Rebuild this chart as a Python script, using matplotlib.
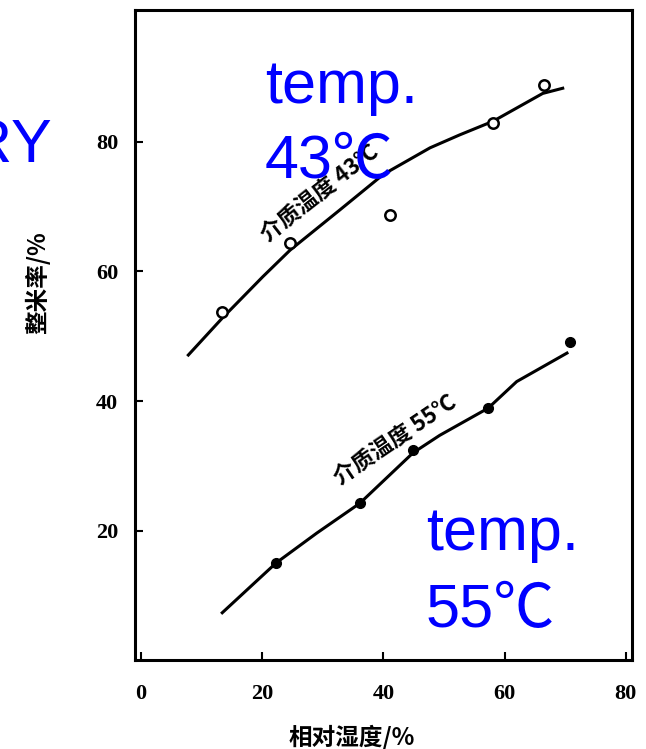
import numpy as np
import matplotlib.pyplot as plt

# ---- data ----
hum_43 = [13.4, 24.6, 41.1, 58.1, 66.5]          # open circles, 43 C
rate_43 = [53.7, 64.4, 68.7, 82.9, 88.8]
curve43_x = [7.8, 13.4, 20.1, 24.6, 32.8, 40.0, 47.7, 52.6, 58.1, 66.3, 69.6]
curve43_y = [47.1, 52.8, 59.2, 63.3, 69.5, 75.0, 79.1, 81.1, 83.2, 87.5, 88.3]

hum_55 = [22.3, 36.1, 44.9, 57.3, 70.8]          # filled dots, 55 C
rate_55 = [15.0, 24.2, 32.4, 38.9, 49.1]
curve55_x = [13.4, 22.3, 29.0, 36.1, 44.9, 49.3, 57.3, 62.0, 70.3]
curve55_y = [7.3, 15.0, 19.6, 24.2, 32.0, 34.7, 38.9, 43.0, 47.4]

xticks = [0, 20, 40, 60, 80]
yticks = [20, 40, 60, 80]

cjk = ['Noto Sans CJK SC', 'DejaVu Sans']
serif = ['Liberation Serif', 'DejaVu Serif']
blue_font = ['Liberation Sans', 'Noto Sans CJK SC', 'DejaVu Sans']

fig = plt.figure(figsize=(6.46, 7.49), dpi=100)
ax = fig.add_axes([0.209, 0.1188, 0.769, 0.868])

ax.plot(curve43_x, curve43_y, color='black', lw=2.2)
ax.plot(hum_43, rate_43, 'o', ms=7.5, mfc='white', mec='black', mew=1.8)
ax.plot(curve55_x, curve55_y, color='black', lw=2.2)
ax.plot(hum_55, rate_55, 'o', ms=7, color='black')

ax.set_xlim(-1, 81)
ax.set_ylim(0, 100.4)
ax.set_xticks(xticks)
ax.set_yticks(yticks)
ax.set_xticklabels([str(t) for t in xticks], family=serif, weight='bold', fontsize=16)
ax.set_yticklabels([str(t) for t in yticks], family=serif, weight='bold', fontsize=16)
ax.tick_params(axis='x', direction='in', length=6, width=1.5, pad=17)
ax.tick_params(axis='y', direction='in', length=6, width=1.5, pad=12)
for s in ax.spines.values():
    s.set_linewidth(2.2)

# axis titles placed where the scan has them
fig.text(352 / 646, 1 - 737 / 749, '相对湿度/%', family=cjk, weight='bold',
         fontsize=17, ha='center', va='center')
fig.text(38 / 646, 1 - 283 / 749, '整米率/%', family=cjk, weight='bold',
         fontsize=17, rotation=90, ha='center', va='center')

# labels written along the curves
ax.text(29.5, 72.0, '介质温度 43℃', family=cjk, weight='bold', fontsize=16,
        rotation=38, ha='center', va='center')
ax.text(42.0, 34.0, '介质温度 55℃', family=cjk, weight='bold', fontsize=16,
        rotation=34, ha='center', va='center')

# blue overlay text (pixel positions from top-left)
def ftext(px, py, s, ha='left'):
    fig.text(px / 646, 1 - py / 749, s, color='blue', fontsize=44,
             family=blue_font, ha=ha, va='baseline')

ftext(265, 103, 'temp.')
ftext(265, 178, '43℃')
ftext(52, 162, 'RY', ha='right')
ftext(426, 550, 'temp.')
ftext(426, 627, '55℃')

fig.savefig('out.png', dpi=100)
